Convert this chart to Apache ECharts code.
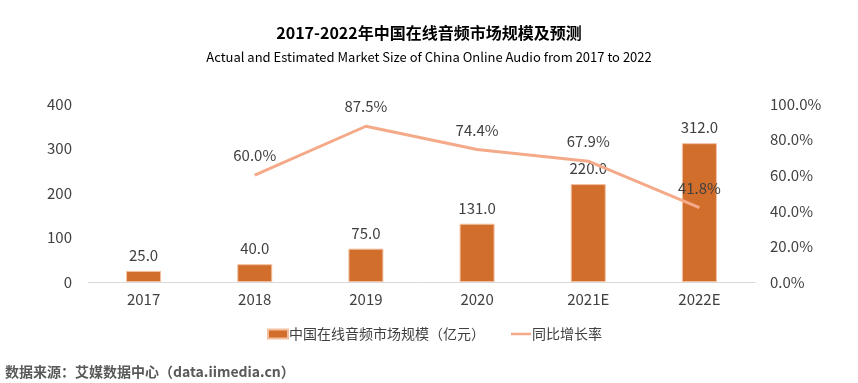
<!DOCTYPE html>
<html>
<head>
<meta charset="utf-8">
<script src="https://cdn.jsdelivr.net/npm/echarts@6/dist/echarts.min.js"></script>
<style>
html,body{margin:0;padding:0;background:#fff;}
#chart{width:858px;height:383px;}
</style>
</head>
<body>
<div id="chart"></div>
<script>
var categories = ['2017', '2018', '2019', '2020', '2021E', '2022E'];
var marketSize = [25.0, 40.0, 75.0, 131.0, 220.0, 312.0];
var growthRate = [null, 60.0, 87.5, 74.4, 67.9, 41.8];
var leftTicks = [0, 100, 200, 300, 400];
var rightTicks = [0, 20, 40, 60, 80, 100];

var FONT = '"Noto Sans CJK SC", "Open Sans", sans-serif';
var chart = echarts.init(document.getElementById('chart'));
chart.setOption({
  backgroundColor: '#ffffff',
  animation: false,
  textStyle: { fontFamily: FONT },
  title: [
    { text: '2017-2022年中国在线音频市场规模及预测', left: 'center', top: 20,
      textStyle: { fontSize: 16, fontWeight: 'bold', color: '#000', fontFamily: FONT } },
    { text: 'Actual and Estimated Market Size of China Online Audio from 2017 to 2022', left: 'center', top: 46,
      textStyle: { fontSize: 13, fontWeight: 'normal', color: '#000', fontFamily: FONT } },
    { text: '数据来源：艾媒数据中心（data.iimedia.cn）', left: 0, top: 360,
      textStyle: { fontSize: 14, fontWeight: 'bold', color: '#595959', fontFamily: FONT } }
  ],
  legend: {
    top: 322, left: 262, itemGap: 26, itemWidth: 20, itemHeight: 9,
    textStyle: { fontSize: 14, color: '#404040', fontFamily: FONT, padding: [0, 0, 0, -4] },
    data: [
      { name: '中国在线音频市场规模（亿元）', icon: 'rect' },
      { name: '同比增长率', icon: 'path://M0,0 L20,0 L20,2.5 L0,2.5 Z' }
    ]
  },
  grid: { left: 88, right: 103, top: 104, bottom: 101 },
  xAxis: {
    type: 'category', data: categories,
    axisLine: { lineStyle: { color: '#D9D9D9', width: 1 } },
    axisTick: { show: false },
    axisLabel: { fontSize: 15, color: '#404040', margin: 10, fontFamily: FONT }
  },
  yAxis: [
    { type: 'value', min: leftTicks[0], max: leftTicks[leftTicks.length - 1], interval: 100,
      splitLine: { show: false }, axisLine: { show: false }, axisTick: { show: false },
      axisLabel: { fontSize: 15, color: '#404040', margin: 16, fontFamily: FONT } },
    { type: 'value', min: rightTicks[0], max: rightTicks[rightTicks.length - 1], interval: 20,
      splitLine: { show: false }, axisLine: { show: false }, axisTick: { show: false },
      axisLabel: { fontSize: 15, color: '#404040', margin: 15, fontFamily: FONT,
        formatter: function (v) { return v.toFixed(1) + '%'; } } }
  ],
  series: [
    { name: '中国在线音频市场规模（亿元）', type: 'bar', data: marketSize, barWidth: 35,
      itemStyle: { color: '#D26E2B', borderColor: '#F2C0A0', borderWidth: 1 },
      label: { show: true, position: 'top', distance: 8, fontSize: 15, color: '#404040', fontFamily: FONT,
        formatter: function (p) { return p.value.toFixed(1); } } },
    { name: '同比增长率', type: 'line', yAxisIndex: 1, data: growthRate,
      symbol: 'circle', symbolSize: 0, showSymbol: true,
      lineStyle: { color: '#F4A988', width: 3 }, itemStyle: { color: '#F4A988' },
      labelLayout: { hideOverlap: false },
      label: { show: true, position: 'top', distance: 12, fontSize: 15, color: '#404040', fontFamily: FONT,
        formatter: function (p) { return p.value == null ? '' : p.value.toFixed(1) + '%'; } } }
  ]
});
</script>
</body>
</html>
